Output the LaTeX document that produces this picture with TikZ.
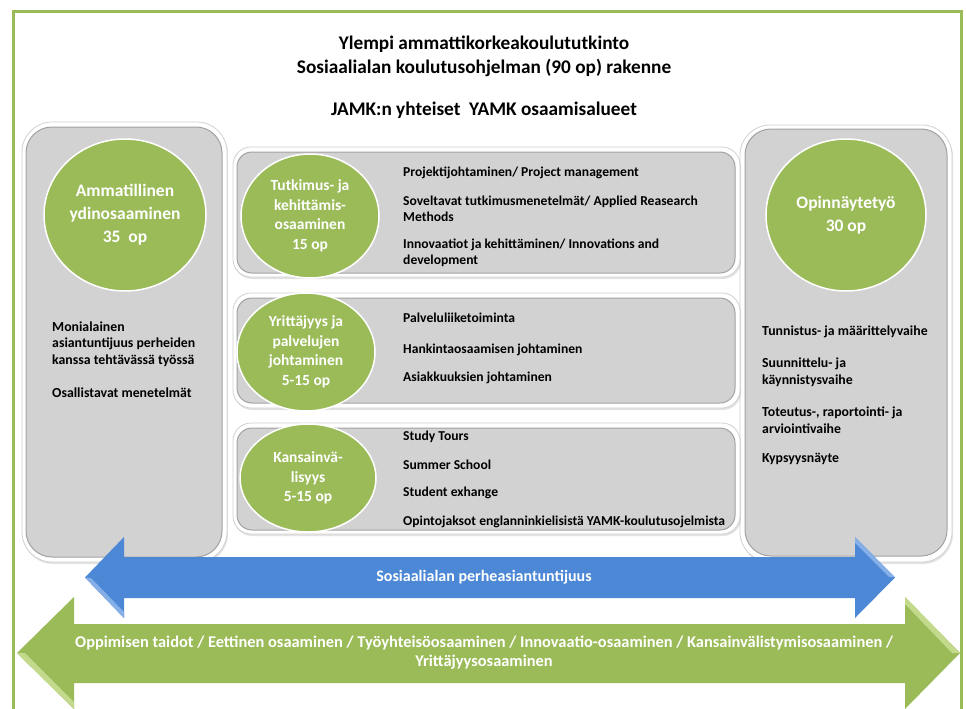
\documentclass[tikz,border=0pt]{standalone}
\usepackage{fontspec}
\setmainfont{Carlito}
\usetikzlibrary{shapes.geometric,shadows}
\definecolor{olivegreen}{HTML}{9BBB59}
\definecolor{panelgray}{HTML}{D2D2D2}
\definecolor{paneledge}{HTML}{A2A2A2}
\definecolor{arrowblue}{HTML}{4C88D6}
\definecolor{bluelight}{HTML}{86AFE8}
\definecolor{greenlight}{HTML}{C3D98B}
\tikzset{
  frameline/.style={draw=olivegreen, line width=3pt},
  outerpanel/.style={rectangle, draw=black!18, fill=white, line width=0.8pt, inner sep=0pt,
    drop shadow={shadow xshift=1pt, shadow yshift=-2pt, opacity=0.22}},
  innerpanel/.style={rectangle, draw=paneledge, fill=panelgray, line width=1pt, inner sep=0pt},
  bigdisc/.style={ellipse, fill=olivegreen, draw=white, line width=1.5pt, inner sep=0pt,
    text=white, align=center, font=\bfseries\fontsize{17.5}{23}\selectfont},
  smalldisc/.style={ellipse, fill=olivegreen, draw=white, line width=1.5pt, inner sep=0pt,
    text=white, align=center, font=\bfseries\fontsize{15.5}{19.5}\selectfont},
  titletext/.style={font=\bfseries\fontsize{19.3}{23}\selectfont, inner sep=0pt},
  itemtext/.style={anchor=west, align=left, inner sep=0pt, font=\bfseries\fontsize{13.6}{16}\selectfont},
  sidetext/.style={anchor=west, align=left, inner sep=0pt, font=\bfseries\fontsize{13.8}{16.5}\selectfont},
  arrowtext/.style={text=white, align=center, inner sep=0pt, font=\bfseries\fontsize{16.4}{19.5}\selectfont},
}
\begin{document}
\begin{tikzpicture}[x=1pt,y=-1pt]
\useasboundingbox (0,0) rectangle (966,709);
\fill[white] (0,0) rectangle (966,709);
% frame
\draw[frameline] (13,730) -- (13,12) -- (961,12) -- (961,730);
% titles
\node[titletext] (t1) at (484,44) {Ylempi ammattikorkeakoulututkinto};
\node[titletext] (t2) at (484,68) {Sosiaalialan koulutusohjelman (90 op) rakenne};
\node[titletext] (t3) at (484,110) {JAMK:n yhteiset\ \ YAMK osaamisalueet};

% left panel
\node[outerpanel, rounded corners=30pt, minimum width=205pt, minimum height=440pt] (lo) at (124.5,342) {};
\node[innerpanel, rounded corners=26pt, minimum width=196pt, minimum height=430pt] (li) at (124,342) {};
\node[bigdisc, minimum width=162pt, minimum height=152pt] (lc) at (125,215) {Ammatillinen\\ydinosaaminen\\35\ \ op};
\node[sidetext] (l1) at (52,344) {Monialainen\\asiantuntijuus perheiden\\kanssa tehtävässä työssä};
\node[sidetext] (l2) at (52,393) {Osallistavat menetelmät};

% right panel
\node[outerpanel, rounded corners=30pt, minimum width=212pt, minimum height=437pt] (ro) at (846,343.5) {};
\node[innerpanel, rounded corners=26pt, minimum width=202pt, minimum height=427pt] (ri) at (846,342.5) {};
\node[bigdisc, minimum width=160pt, minimum height=152pt] (rc) at (846,215) {Opinnäytetyö\\30 op};
\node[sidetext] (r1) at (762,332) {Tunnistus- ja määrittelyvaihe};
\node[sidetext] (r2) at (762,372) {Suunnittelu- ja\\käynnistysvaihe};
\node[sidetext] (r3) at (762,420) {Toteutus-, raportointi- ja\\arviointivaihe};
\node[sidetext] (r4) at (762,459) {Kypsyysnäyte};

% box 1
\node[outerpanel, rounded corners=18pt, minimum width=507pt, minimum height=130pt] (b1o) at (486.5,212) {};
\node[innerpanel, rounded corners=15pt, minimum width=498pt, minimum height=121pt] (b1i) at (486,212.5) {};
\node[smalldisc, minimum width=138pt, minimum height=124pt] (c1) at (310,216) {Tutkimus- ja\\kehittämis-\\osaaminen\\15 op};
\node[itemtext] (i11) at (403,173) {Projektijohtaminen/ Project management};
\node[itemtext] (i12) at (403,208.5) {Soveltavat tutkimusmenetelmät/ Applied Reasearch\\Methods};
\node[itemtext] (i13) at (403,253) {Innovaatiot ja kehittäminen/ Innovations and\\development};

% box 2
\node[outerpanel, rounded corners=18pt, minimum width=507pt, minimum height=115pt] (b2o) at (486.5,350.5) {};
\node[innerpanel, rounded corners=15pt, minimum width=498pt, minimum height=105pt] (b2i) at (486,350.5) {};
\node[smalldisc, minimum width=138pt, minimum height=118pt] (c2) at (306,352) {Yrittäjyys ja\\palvelujen\\johtaminen\\5-15 op};
\node[itemtext] (i21) at (403,318) {Palveluliiketoiminta};
\node[itemtext] (i22) at (403,350) {Hankintaosaamisen johtaminen};
\node[itemtext] (i23) at (403,378) {Asiakkuuksien johtaminen};

% box 3
\node[outerpanel, rounded corners=18pt, minimum width=507pt, minimum height=111pt] (b3o) at (486.5,478.5) {};
\node[innerpanel, rounded corners=15pt, minimum width=498pt, minimum height=102pt] (b3i) at (486,479) {};
\node[smalldisc, minimum width=136pt, minimum height=108pt] (c3) at (308,478) {Kansainvä-\\lisyys\\5-15 op};
\node[itemtext] (i31) at (403,437) {Study Tours};
\node[itemtext] (i32) at (403,465) {Summer School};
\node[itemtext] (i33) at (403,493) {Student exhange};
\node[itemtext] (i34) at (403,522) {Opintojaksot englanninkielisistä YAMK-koulutusojelmista};

% blue double arrow
\fill[arrowblue] (85,577.5) -- (124,537) -- (124,557) -- (855,557) -- (855,537) -- (895,577.5)
  -- (855,618) -- (855,598) -- (124,598) -- (124,618) -- cycle;
\fill[bluelight] (85,577.5) -- (124,618) -- (124,612) -- (91,578) -- cycle;
\fill[bluelight] (895,577.5) -- (855,537) -- (855,543) -- (889,577) -- cycle;
\node[arrowtext, font=\bfseries\fontsize{16}{19}\selectfont] (bt) at (484,577) {Sosiaalialan perheasiantuntijuus};

% green double arrow
\fill[olivegreen] (17,653) -- (74,597) -- (74,624) -- (905,624) -- (905,597) -- (960,653)
  -- (905,709) -- (905,683) -- (74,683) -- (74,709) -- cycle;
\fill[greenlight] (17,653) -- (74,709) -- (74,702) -- (25,653) -- cycle;
\fill[greenlight] (960,653) -- (905,597) -- (905,604) -- (952,653) -- cycle;
\node[arrowtext] (gt) at (484,652.5) {Oppimisen taidot / Eettinen osaaminen / Työyhteisöosaaminen / Innovaatio-osaaminen / Kansainvälistymisosaaminen /\\Yrittäjyysosaaminen};
\end{tikzpicture}
\end{document}
